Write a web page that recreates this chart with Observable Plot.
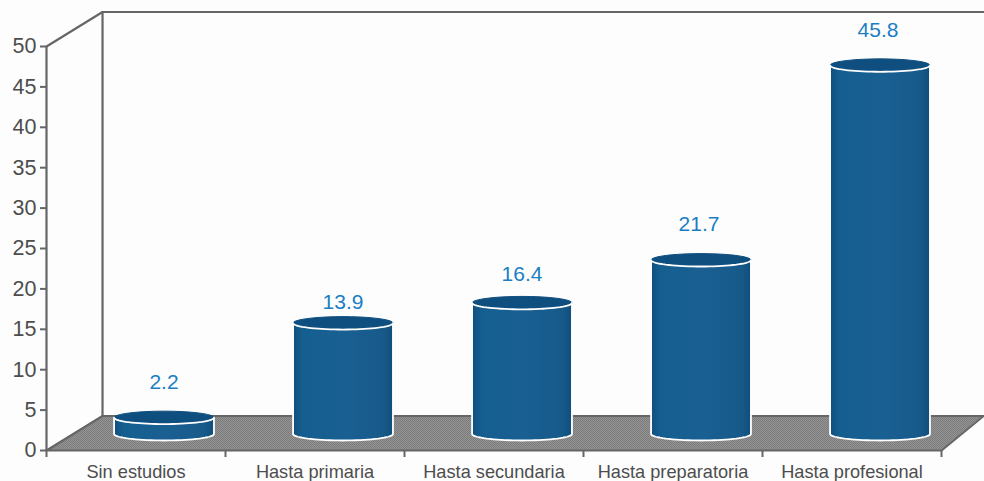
<!DOCTYPE html>
<html><head><meta charset="utf-8">
<script src="https://cdn.jsdelivr.net/npm/d3@7"></script>
<script src="https://cdn.jsdelivr.net/npm/@observablehq/plot@0.6"></script>
<style>html,body{margin:0;padding:0;background:#fdfdfe;overflow:hidden}svg{display:block}</style>
</head><body><div id="c"></div>
<script>
const categories = ["Sin estudios","Hasta primaria","Hasta secundaria","Hasta preparatoria","Hasta profesional"];
const values = [2.2,13.9,16.4,21.7,45.8];
const valueLabels = ["2.2","13.9","16.4","21.7","45.8"];
const yTicks = [0,5,10,15,20,25,30,35,40,45,50];
const xTicks = [0,1,2,3,4,5];

// 3D perspective constants, in scale units
const depthX = 0.313, depthY = 4.27, floorRightX = 5.235, wallRightX = 5.4;
const midX = depthX/2, midY = 2.04, topShift = -0.17;
const rx = 0.279, ryUnits = 0.8;

const bars = categories.map((c,i)=>({c,i,v:values[i],label:valueLabels[i],cx:i+0.5+midX}));
const arc = (b,base,from,to)=>d3.range(0,37).map(k=>{
  const t = from+(to-from)*k/36;
  return {id:b.i,x:b.cx+rx*Math.cos(t),y:base+ryUnits*Math.sin(t)};
});
const bodies = bars.flatMap(b=>[
  ...arc(b,midY+b.v+topShift,Math.PI,2*Math.PI),
  ...arc(b,midY,0,-Math.PI),
  ...arc(b,midY+b.v+topShift,Math.PI,Math.PI+0.001)
]);
const tops = bars.flatMap(b=>arc(b,midY+b.v+topShift,0,2*Math.PI));

const floorEdge = [{x1:0,y1:0,x2:depthX,y2:depthY},{x1:5,y1:0,x2:floorRightX,y2:depthY}];
const wall = [{x:0,y:50},{x:depthX,y:50+depthY},{x:wallRightX,y:50+depthY}];
const wallV = [{x:depthX,y:depthY},{x:depthX,y:50+depthY}];
const floorOutline = [{x:0,y:0},{x:depthX,y:depthY},{x:floorRightX,y:depthY},{x:5,y:0},{x:0,y:0}];

const labelShiftY = [0,15,7,0,0];
const labelShiftX = [0,0,0,-2,-2];
const axisC = "#666";

const defs = ()=>{
  const d = d3.create("svg:defs");
  const g = d.append("linearGradient").attr("id","body");
  [[0,"#0f507f"],[.1,"#155f90"],[.55,"#1a5f92"],[.9,"#175a8a"],[1,"#114e7a"]].forEach(([o,c])=>g.append("stop").attr("offset",o).attr("stop-color",c));
  const p = d.append("pattern").attr("id","floor").attr("width",2).attr("height",2).attr("patternUnits","userSpaceOnUse");
  p.append("rect").attr("width",2).attr("height",2).attr("fill","#949494");
  p.append("rect").attr("width",1).attr("height",1).attr("fill","#7c7c7c");
  p.append("rect").attr("x",1).attr("y",1).attr("width",1).attr("height",1).attr("fill","#7c7c7c");
  return d.node();
};

const chart = Plot.plot({
  width:984,height:481,
  marginLeft:46,marginRight:43,marginTop:46,marginBottom:31,
  style:{background:"#fdfdfe",fontFamily:"'Liberation Sans',Arial,sans-serif",overflow:"hidden"},
  x:{type:"linear",domain:[0,5],axis:null},
  y:{type:"linear",domain:[0,50],axis:null},
  marks:[
    defs,
    Plot.area(floorEdge,{x1:"x1",y1:"y1",x2:"x2",y2:"y2",fill:"url(#floor)"}),
    Plot.line(floorOutline,{x:"x",y:"y",stroke:axisC,strokeWidth:2.2}),
    Plot.line(wall,{x:"x",y:"y",stroke:axisC,strokeWidth:2.2}),
    Plot.line(wallV,{x:"x",y:"y",stroke:axisC,strokeWidth:2.2}),
    Plot.ruleX([0],{y1:0,y2:50,stroke:axisC,strokeWidth:2.2}),
    Plot.axisY({ticks:yTicks,tickSize:6,tickPadding:4,stroke:axisC,strokeWidth:2,fill:"#4d4d4d",fontSize:21.5,label:null,anchor:"left"}),
    Plot.axisX({ticks:xTicks,tickSize:7,stroke:axisC,strokeWidth:2,tickFormat:()=>"",label:null,anchor:"bottom"}),
    Plot.line(tops,{x:"x",y:"y",z:"id",fill:"#0f4f80",stroke:"#0f4f80",strokeWidth:1}),
    Plot.line(bodies,{x:"x",y:"y",z:"id",fill:"url(#body)",stroke:"#fff",strokeWidth:1.8}),
    ...bars.map(b=>Plot.text([b],{x:"cx",y:d=>d.v+midY,text:"label",dx:labelShiftX[b.i],dy:-34+labelShiftY[b.i],fill:"#1b7ec2",fontSize:21})),
    Plot.text(bars,{x:d=>d.i+0.5,y:0,text:"c",dy:22,fill:"#4d4d4d",fontSize:18.2})
  ]
});
document.getElementById("c").append(chart);
</script></body></html>
